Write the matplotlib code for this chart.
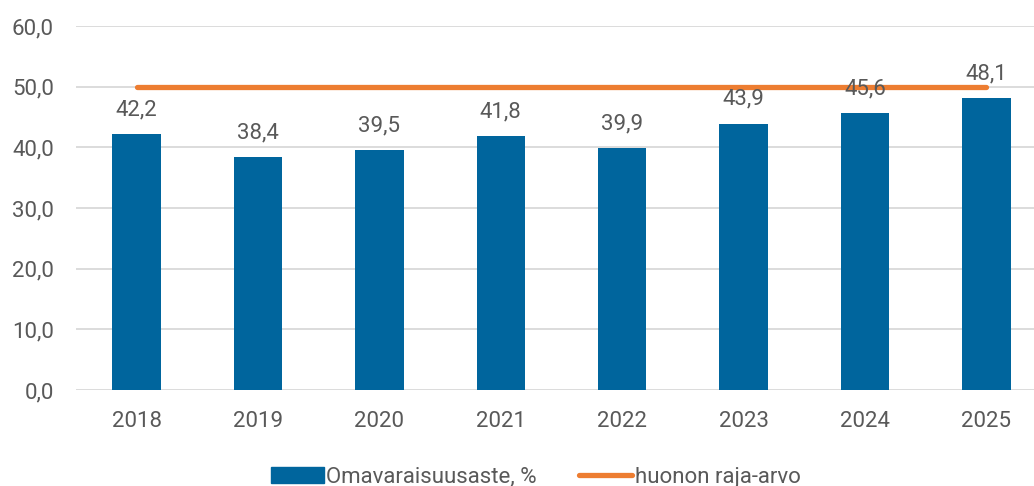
import matplotlib
matplotlib.use("Agg")
import matplotlib.pyplot as plt
from matplotlib.patches import Patch
from matplotlib.lines import Line2D

# Chart data
years = ['2018', '2019', '2020', '2021', '2022', '2023', '2024', '2025']
omavaraisuus = [42.2, 38.4, 39.5, 41.8, 39.9, 43.9, 45.6, 48.1]
raja_arvo = [50, 50, 50, 50, 50, 50, 50, 50]

bar_color = '#00659D'
line_color = '#ED7D31'
text_color = '#595959'

plt.rcParams['font.family'] = ['Roboto', 'DejaVu Sans']

fig = plt.figure(figsize=(10.34, 4.86), dpi=100)
ax = fig.add_axes([76/1034, 96/486, 971/1034, 364/486])

x = range(len(years))
ax.bar(x, omavaraisuus, width=0.4, color=bar_color, zorder=2)
ax.plot(x, raja_arvo, color=line_color, linewidth=3.8, solid_capstyle='round', zorder=3)

# value labels above bars
for i, v in enumerate(omavaraisuus):
    ax.annotate(f'{v:.1f}'.replace('.', ','), (i, v), xytext=(0, 10), textcoords='offset points',
                ha='center', va='bottom', fontsize=16, color=text_color, zorder=4)

ax.set_xlim(-0.5, len(years) - 0.5)
ax.set_ylim(0, 60)
ax.set_yticks(range(0, 61, 10))
ax.set_yticklabels([f'{t:.1f}'.replace('.', ',') for t in range(0, 61, 10)])
ax.set_xticks(list(x))
ax.set_xticklabels(years)
ax.tick_params(axis='both', length=0, labelsize=16, colors=text_color)
ax.tick_params(axis='x', pad=15)
ax.tick_params(axis='y', pad=16)
ax.grid(axis='y', color='#D9D9D9', linewidth=1.3, zorder=0)
for s in ax.spines.values():
    s.set_visible(False)

handles = [Patch(color=bar_color, label='Omavaraisuusaste, %'),
           Line2D([], [], color=line_color, linewidth=3.8, solid_capstyle='round', label='huonon raja-arvo')]
fig.legend(handles=handles, loc='center', bbox_to_anchor=(0.518, 0.018), ncol=2, frameon=False,
           fontsize=16, labelcolor=text_color, handlelength=2.4, handletextpad=0.1, columnspacing=1.9)

fig.savefig('out.png', dpi=100)
